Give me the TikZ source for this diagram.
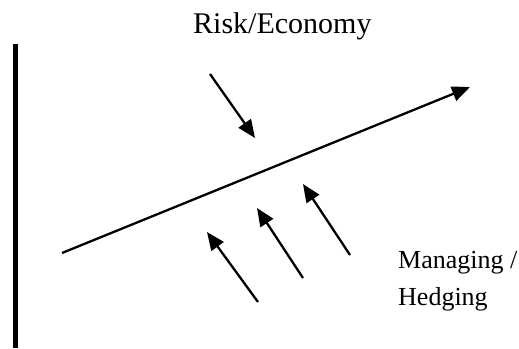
\documentclass[tikz,border=0pt]{standalone}
\usepackage{fontspec}
\setmainfont{Liberation Serif}
\usetikzlibrary{arrows.meta}
\begin{document}
\begin{tikzpicture}[x=1pt,y=-1pt,
  arr/.style={line width=2.3pt,-{Triangle[length=18pt,width=15pt]}},
  lbl/.style={font=\fontsize{26}{37}\selectfont,inner sep=0pt,anchor=base west,align=left}]
\useasboundingbox (0,0) rectangle (519,348);
\draw[line width=5pt] (15,44) -- (15,348);
\coordinate (m1) at (62,253);
\coordinate (m2) at (470,87);
\draw[arr] (m1) -- (m2);
\node[lbl,font=\fontsize{30}{36}\selectfont] (risk) at (193,33) {Risk/Economy};
\coordinate (r1) at (210,74);
\coordinate (r2) at (255,138);
\draw[arr] (r1) -- (r2);
\coordinate (a1s) at (258,302); \coordinate (a1e) at (207,232);
\coordinate (a2s) at (303,278); \coordinate (a2e) at (257,208);
\coordinate (a3s) at (350,255); \coordinate (a3e) at (303,184);
\draw[arr] (a1s) -- (a1e);
\draw[arr] (a2s) -- (a2e);
\draw[arr] (a3s) -- (a3e);
\node[lbl] (mng) at (398,268) {Managing /};
\node[lbl] (hdg) at (398,305) {Hedging};
\end{tikzpicture}
\end{document}
